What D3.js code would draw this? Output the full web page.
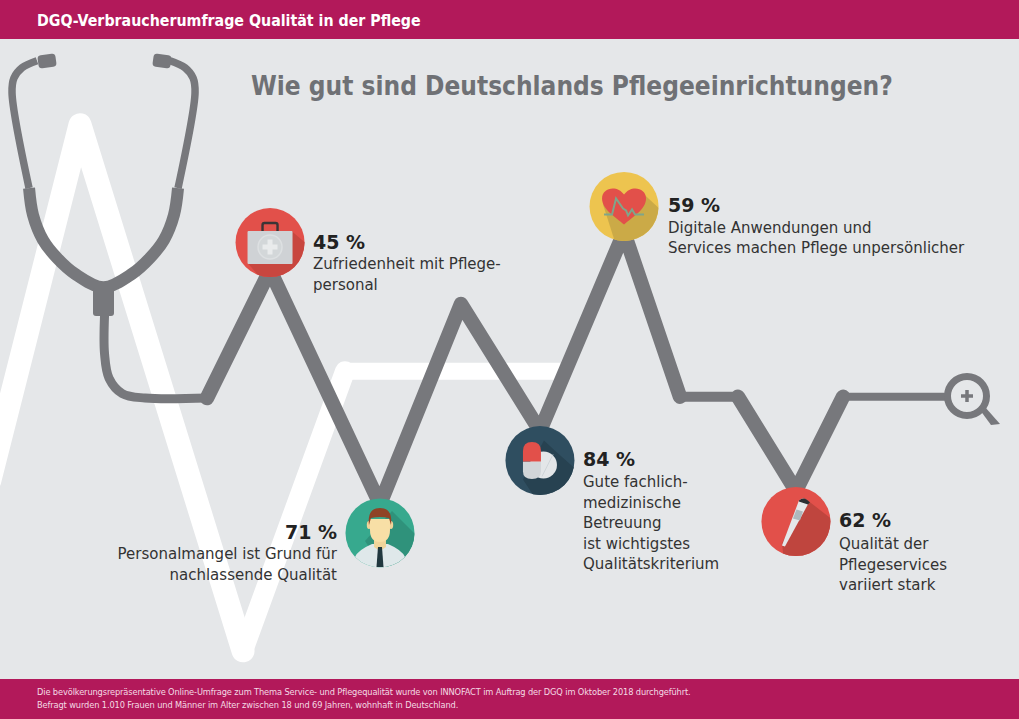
<!DOCTYPE html>
<html>
<head>
<meta charset="utf-8">
<script src="https://cdn.jsdelivr.net/npm/d3@7"></script>
<style>
html, body { margin: 0; padding: 0; background: #e5e7e9; }
svg { display: block; font-family: "DejaVu Sans", sans-serif; }
</style>
</head>
<body>
<svg></svg>
<script>
var width  = 1019;
var height = 719;

// survey results
var percents = [45, 71, 84, 59, 62];
var captions = [
    ['Zufriedenheit mit Pflege-', 'personal'],
    ['Personalmangel ist Grund für', 'nachlassende Qualität'],
    ['Gute fachlich-', 'medizinische', 'Betreuung', 'ist wichtigstes', 'Qualitätskriterium'],
    ['Digitale Anwendungen und', 'Services machen Pflege unpersönlicher'],
    ['Qualität der', 'Pflegeservices', 'variiert stark']
];
var headerText = 'DGQ-Verbraucherumfrage Qualität in der Pflege';
var titleText  = 'Wie gut sind Deutschlands Pflegeeinrichtungen?';
var footerText = [
    'Die bevölkerungsrepräsentative Online-Umfrage zum Thema Service- und Pflegequalität wurde von INNOFACT im Auftrag der DGQ im Oktober 2018 durchgeführt.',
    'Befragt wurden 1.010 Frauen und Männer im Alter zwischen 18 und 69 Jahren, wohnhaft in Deutschland.'
];

// the pulse curves (percent of the canvas width / of the panel height)
var pulseTime  = [20.31, 26.50, 37.29, 45.24, 52.99, 61.24, 66.73, 72.42, 78.11, 82.73, 92.74];
var pulseLevel = [43.9, 63.9, 27.3, 58.6, 38.75, 69.8, 44.1, 44.1, 29.4, 44.1, 44.1];
var traceTime  = [-1.00, 7.85, 23.85, 33.86, 55.00];
var traceLevel = [31.0, 86.6, 4.4, 48.1, 48.1];

// stethoscope tubing, same units
var tubeTime   = [10.26, 10.26, 10.70, 12.00, 14.23, 20.31];
var tubeLevel  = [56.9, 50.8, 47.0, 44.6, 43.9, 43.9];
var bowTime    = [2.85, 3.24, 4.22, 5.59, 7.36, 10.15, 12.95, 14.72, 16.09, 17.07, 17.47];
var bowLevel   = [76.7, 72.5, 68.6, 65.8, 63.3, 61.2, 63.3, 65.8, 68.6, 72.5, 76.7];
var wireLTime  = [2.85, 1.18, 1.37, 2.16, 3.63];
var wireLLevel = [76.7, 91.6, 93.9, 95.5, 96.6];
var wireRTime  = [17.47, 19.14, 18.95, 18.16, 16.69];
var wireRLevel = [76.7, 91.6, 93.9, 95.5, 96.6];

var xScale = d3.scaleLinear().domain([0, 100]).range([0, width]);
var yScale = d3.scaleLinear().domain([0, 100]).range([679, 39]);

var ids = d3.range(pulseTime.length);

var pulseLine = d3.line()
    .x(i => xScale(pulseTime[i]))
    .y(i => yScale(pulseLevel[i]));

var smoothLine = d3.line()
    .x(d => xScale(d[0]))
    .y(d => yScale(d[1]))
    .curve(d3.curveCatmullRom.alpha(0.5));

var traceLine = d3.line()
    .x(d => xScale(d[0]))
    .y(d => yScale(d[1]));

var gray = '#77787c';

var svg = d3.select('svg')
    .attr('width', width)
    .attr('height', height)
    .attr('viewBox', '0 0 ' + width + ' ' + height);

svg.append('rect')
    .attr('width', width)
    .attr('height', height)
    .attr('fill', '#e5e7e9');

// white pulse in the background
var trace = d3.zip(traceTime, traceLevel);
svg.append('path')
    .attr('d', traceLine(trace.slice(3)))
    .attr('fill', 'none')
    .attr('stroke', '#fff')
    .attr('stroke-width', 17);
svg.append('path')
    .attr('d', traceLine(trace.slice(2, 4)))
    .attr('fill', 'none')
    .attr('stroke', '#fff')
    .attr('stroke-width', 20)
    .attr('stroke-linecap', 'round');
svg.append('path')
    .attr('d', traceLine(trace.slice(0, 3)))
    .attr('fill', 'none')
    .attr('stroke', '#fff')
    .attr('stroke-width', 23)
    .attr('stroke-linejoin', 'round')
    .attr('stroke-linecap', 'round');

// grey pulse
var pulseRuns = [
    {from: 0, to: 6, w: 14.5},
    {from: 6, to: 7, w: 10},
    {from: 7, to: 9, w: 14.5},
    {from: 9, to: 10, w: 8}
];
pulseRuns.forEach(function(run) {
    svg.append('path')
        .attr('d', pulseLine(ids.slice(run.from, run.to + 1)))
        .attr('fill', 'none')
        .attr('stroke', gray)
        .attr('stroke-width', run.w)
        .attr('stroke-linejoin', 'round')
        .attr('stroke-linecap', 'round');
});

// stethoscope
var tubes = [
    {t: tubeTime, l: tubeLevel, w: 9},
    {t: bowTime, l: bowLevel, w: 12},
    {t: wireLTime, l: wireLLevel, w: 7.5},
    {t: wireRTime, l: wireRLevel, w: 7.5}
];
tubes.forEach(function(tube) {
    svg.append('path')
        .attr('d', smoothLine(d3.zip(tube.t, tube.l)))
        .attr('fill', 'none')
        .attr('stroke', gray)
        .attr('stroke-width', tube.w);
});
svg.append('rect')
    .attr('x', 93).attr('y', 288)
    .attr('width', 21).attr('height', 28)
    .attr('rx', 3)
    .attr('fill', gray);
[[47, 61, -8], [162, 61, 8]].forEach(function(e) {
    svg.append('rect')
        .attr('x', -9).attr('y', -6.5)
        .attr('width', 18).attr('height', 13)
        .attr('rx', 3.5)
        .attr('transform', 'translate(' + e[0] + ',' + e[1] + ') rotate(' + e[2] + ')')
        .attr('fill', gray);
});

// magnifier at the end of the line
var lens = svg.append('g').attr('transform', 'translate(967,396)');
lens.append('circle')
    .attr('r', 19.5)
    .attr('fill', '#e5e7e9')
    .attr('stroke', gray)
    .attr('stroke-width', 7);
lens.append('path')
    .attr('d', 'M-6,0H6M0,-6V6')
    .attr('stroke', gray)
    .attr('stroke-width', 3.5);
lens.append('path')
    .attr('d', 'M13,14L18,11L33,28L24,29Z')
    .attr('fill', gray);

// badges, hung on the pulse vertices
var badges = [
    {vertex: 1, dy: -27.5, fill: '#e2504a', shade: '#c8463f', draw: drawCase, shadow: 'M22,-11L70,30V70H20L-22,21Z'},
    {vertex: 2, dy: 28.7, fill: '#37a98e', shade: '#2f927b', draw: drawDoctor, shadow: 'M12,-22L60,26V60H20L-15,8Z'},
    {vertex: 4, dy: 29.5, fill: '#2f4e60', shade: '#274251', draw: drawPill, shadow: 'M4,-20L17,-8L60,30V60H10L-17,19Z'},
    {vertex: 5, dy: -25.8, fill: '#edc44f', shade: '#cbaa47', draw: drawHeart, shadow: 'M18,-14L70,34V70H2L-21,-2Z'},
    {vertex: 8, dy: 30.7, fill: '#e2504a', shade: '#bf453e', draw: drawThermo, shadow: 'M8,-24L70,24V70H-8L-14,22Z'}
];

var defs = svg.append('defs');
badges.forEach(function(b, i) {
    var cx = xScale(pulseTime[b.vertex]);
    var cy = yScale(pulseLevel[b.vertex]) + b.dy;
    var g = svg.append('g').attr('transform', 'translate(' + cx + ',' + cy + ')');

    defs.append('clipPath')
        .attr('id', 'clip' + i)
        .append('circle')
        .attr('r', 34.5);

    g.append('circle')
        .attr('r', 34.5)
        .attr('fill', b.fill);

    var inner = g.append('g').attr('clip-path', 'url(#clip' + i + ')');
    inner.append('path')
        .attr('d', b.shadow)
        .attr('fill', b.shade);
    b.draw(inner);
});

function drawCase(g) {
    g.append('rect').attr('x', -7.5).attr('y', -19.5).attr('width', 15).attr('height', 12).attr('rx', 2)
        .attr('fill', 'none').attr('stroke', '#3b3436').attr('stroke-width', 2.4);
    g.append('rect').attr('x', -22.5).attr('y', -11.5).attr('width', 45).attr('height', 33).attr('rx', 1)
        .attr('fill', '#cfd2d5');
    g.append('circle').attr('cy', 4.5).attr('r', 12)
        .attr('fill', '#d3d7d9').attr('stroke', '#dde0e2').attr('stroke-width', 1.5);
    g.append('path').attr('d', 'M-7.5,4.5H7.5M0,-3V12')
        .attr('stroke', '#e9ebec').attr('stroke-width', 5);
}

function drawDoctor(g) {
    g.append('path')
        .attr('d', 'M-25,40V24Q-22,17 -8,11H8Q22,17 25,24V40Z')
        .attr('fill', '#dfe8ea');
    g.append('path').attr('d', 'M-6,6H6V14L0,18L-6,14Z').attr('fill', '#f0d49a');
    g.append('path').attr('d', 'M-2,14H2L3.5,34H-3.5Z').attr('fill', '#21383f');
    g.append('ellipse').attr('cx', -11).attr('cy', -8).attr('rx', 2.2).attr('ry', 4).attr('fill', '#f0d49a');
    g.append('ellipse').attr('cx', 11).attr('cy', -8).attr('rx', 2.2).attr('ry', 4).attr('fill', '#f0d49a');
    g.append('path')
        .attr('d', 'M-10,-14V-3Q-10,9 0,9Q10,9 10,-3V-14Z')
        .attr('fill', '#f8dfa6');
    g.append('path')
        .attr('d', 'M-11,-8Q-13,-25 0,-25Q13,-25 11,-8L9,-15Q0,-17 -9,-15Z')
        .attr('fill', '#8f4226');
}

function drawPill(g) {
    g.append('circle').attr('cx', 3.5).attr('cy', 4.5).attr('r', 13.5).attr('fill', '#e3e6e8');
    g.append('path').attr('d', 'M2,16L13,-6').attr('stroke', '#cfd5d9').attr('stroke-width', 1);
    g.append('path')
        .attr('d', 'M-17,1V11Q-17,18.5 -8,18.5Q1,18.5 1,11V1Z')
        .attr('fill', '#d2d6d9');
    g.append('path')
        .attr('d', 'M-17,1V-9.5Q-17,-18.5 -8,-18.5Q1,-18.5 1,-9.5V1Z')
        .attr('fill', '#e2504a');
}

function drawHeart(g) {
    g.append('path')
        .attr('d', 'M0,18C-8,11 -22,3 -22,-8C-22,-19 -7,-22 0,-12C7,-22 22,-19 22,-8C22,3 8,11 0,18Z')
        .attr('fill', '#e2504a');
    g.append('path')
        .attr('d', 'M-20,8H-12L-8,-8L-1,2L2,4L4,9L8,3L11,8H20')
        .attr('fill', 'none')
        .attr('stroke', '#7fa58a')
        .attr('stroke-width', 2);
}

function drawThermo(g) {
    g.append('path')
        .attr('d', 'M-14,24L3,-21Q8,-26 13,-19L-11,25Z')
        .attr('fill', '#e5e8ea');
    g.append('path')
        .attr('d', 'M3,-21Q8,-26 14,-19L12,-17L3,-20Z')
        .attr('fill', '#2c2f33');
    g.append('path')
        .attr('d', 'M0.5,-12L7,-10L4,-1L-3,-3Z')
        .attr('fill', '#aeb8bd');
}

// callout texts
var notes = [
    {x: 313, y: 249, anchor: 'start', ys: [269, 290]},
    {x: 337, y: 539, anchor: 'end', ys: [559, 580]},
    {x: 583, y: 466, anchor: 'start', ys: [487, 507.5, 528, 548.5, 569]},
    {x: 668, y: 212, anchor: 'start', ys: [233, 253]},
    {x: 839, y: 527, anchor: 'start', ys: [549, 570, 590]}
];

notes.forEach(function(n, i) {
    svg.append('text')
        .attr('x', n.x)
        .attr('y', n.y)
        .attr('text-anchor', n.anchor)
        .attr('font-size', 19)
        .attr('font-weight', 'bold')
        .attr('fill', '#222')
        .text(percents[i] + ' %');

    svg.selectAll('text.cap' + i)
        .data(captions[i])
        .enter()
        .append('text')
        .attr('class', 'cap' + i)
        .attr('x', n.x)
        .attr('y', (d, j) => n.ys[j])
        .attr('text-anchor', n.anchor)
        .attr('font-size', 15)
        .attr('fill', '#333')
        .text(d => d);
});

// header, title, footer
svg.append('rect')
    .attr('width', width)
    .attr('height', 39)
    .attr('fill', '#b2195a');
svg.append('text')
    .attr('x', 37)
    .attr('y', 26)
    .attr('font-family', '"DejaVu Sans Condensed", sans-serif')
    .attr('font-size', 15.8)
    .attr('font-weight', 'bold')
    .attr('fill', '#fff')
    .text(headerText);
svg.append('text')
    .attr('x', 251)
    .attr('y', 95)
    .attr('font-family', '"DejaVu Sans Condensed", sans-serif')
    .attr('font-size', 26)
    .attr('font-weight', 'bold')
    .attr('fill', '#6f7175')
    .text(titleText);
svg.append('rect')
    .attr('y', 679)
    .attr('width', width)
    .attr('height', 40)
    .attr('fill', '#b2195a');
svg.selectAll('text.foot')
    .data(footerText)
    .enter()
    .append('text')
    .attr('class', 'foot')
    .attr('x', 37)
    .attr('y', (d, i) => 695 + i * 12.5)
    .attr('font-family', '"Liberation Sans Narrow", "DejaVu Sans Condensed", sans-serif')
    .attr('font-size', 9.2)
    .attr('letter-spacing', -0.125)
    .attr('fill', '#f4dbe5')
    .text(d => d);
</script>
</body>
</html>
